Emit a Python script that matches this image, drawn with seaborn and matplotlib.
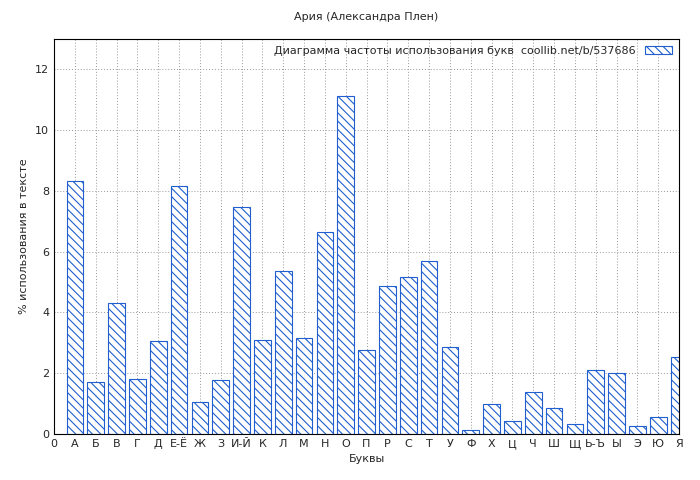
import matplotlib
matplotlib.use("Agg")
import matplotlib.pyplot as plt
import seaborn as sns
import pandas as pd

letters = ["А", "Б", "В", "Г", "Д", "Е-Ё", "Ж", "З", "И-Й", "К", "Л", "М", "Н", "О", "П",
           "Р", "С", "Т", "У", "Ф", "Х", "Ц", "Ч", "Ш", "Щ", "Ь-Ъ", "Ы", "Э", "Ю", "Я"]
percent = [8.32, 1.71, 4.31, 1.81, 3.06, 8.15, 1.05, 1.78, 7.46, 3.09, 5.36, 3.16, 6.64, 11.11, 2.76,
           4.87, 5.16, 5.69, 2.86, 0.13, 0.99, 0.43, 1.38, 0.85, 0.33, 2.10, 2.00, 0.26, 0.56, 2.53]
tick_labels = ["0"] + letters

sns.set_style("white")
plt.rcParams["font.family"] = ["DejaVu Sans"]
plt.rcParams["hatch.color"] = "#1f5fcf"
plt.rcParams["hatch.linewidth"] = 0.8

df = pd.DataFrame({"pos": range(1, len(letters) + 1), "pct": percent})

fig = plt.figure(figsize=(7, 4.8), dpi=100)
ax = fig.add_axes([54 / 700, 1 - 434 / 480, 625 / 700, 395 / 480])

sns.barplot(data=df, x="pos", y="pct", native_scale=True, width=0.8,
            color="white", edgecolor="#1f5fcf", linewidth=0.8, hatch="\\\\\\\\", ax=ax,
            label="Диаграмма частоты использования букв  coollib.net/b/537686")

ax.set_xlim(0, 30)
ax.set_ylim(0, 13)
ax.set_xticks(range(0, 31))
ax.set_xticklabels(tick_labels, fontsize=8)
ax.set_yticks(range(0, 13, 2))
ax.tick_params(axis="y", labelsize=8)
ax.tick_params(direction="in", length=4)
ax.grid(True, linestyle=(0, (1, 2)), color="#999999", linewidth=0.7)
ax.set_axisbelow(True)
for s in ax.spines.values():
    s.set_color("black")
    s.set_linewidth(0.8)

ax.set_xlabel("Буквы", fontsize=8)
ax.set_ylabel("% использования в тексте", fontsize=8)
ax.set_title("Ария (Александра Плен)", fontsize=8, pad=14)

leg = ax.legend(loc="upper right", fontsize=8, frameon=False, markerfirst=False,
                handlelength=2.5, handleheight=0.7, borderaxespad=0.2)

fig.savefig("out.png", dpi=100)
